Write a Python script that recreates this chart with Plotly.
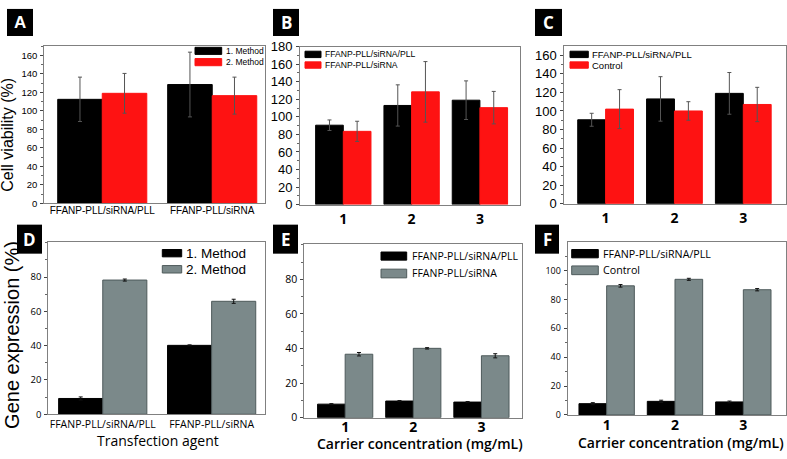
import plotly.graph_objects as go

W, H = 787, 459

# ---------------- data ----------------
a_cats = ["FFANP-PLL/siRNA/PLL", "FFANP-PLL/siRNA"]
a_m1 = [112.5, 128.5]
a_m1_err = [24, 35]
a_m2 = [119, 116.5]
a_m2_err = [21.5, 20]

conc = ["1", "2", "3"]
b_pll = [90.5, 113, 119]
b_pll_err = [6, 23.5, 22]
b_sirna = [83.5, 128.5, 110.5]
b_sirna_err = [11.5, 34.5, 18.5]

c_pll = [90.5, 113, 119]
c_pll_err = [7, 24, 22.5]
c_ctrl = [102, 100, 107]
c_ctrl_err = [21, 10, 18.5]

d_cats = ["FFANP-PLL/siRNA/PLL", "FFANP-PLL/siRNA"]
d_m1 = [9.2, 40.2]
d_m1_err = [0.9, 0.3]
d_m2 = [78.3, 65.9]
d_m2_err = [0.6, 1.2]

e_pll = [7.8, 9.6, 9.0]
e_pll_err = [0.3, 0.3, 0.3]
e_sirna = [36.7, 40.1, 35.8]
e_sirna_err = [1.0, 0.4, 1.2]

f_pll = [7.8, 9.4, 9.0]
f_pll_err = [0.7, 0.8, 0.6]
f_ctrl = [89.4, 93.9, 86.7]
f_ctrl_err = [0.9, 0.7, 0.8]

# ---------------- style ----------------
BLACK = "#000000"
RED = "#fe1212"
GRAY = "#7b898a"
GRAY_EDGE = "#4e5a5b"
FRAME = "#808080"
ARIAL = "Liberation Sans, Arial, sans-serif"
OPEN = "Open Sans, sans-serif"


def px(x):
    return x / W


def py(y):
    return 1 - y / H


fig = go.Figure()


def add_bar(cats, vals, errs, color, edge, ax, errcol, name):
    fig.add_trace(go.Bar(
        x=cats, y=vals, name=name, showlegend=False,
        marker=dict(color=color, line=dict(color=edge, width=1)),
        error_y=dict(type="data", array=errs, visible=True, color=errcol,
                     thickness=1, width=2),
        xaxis="x" + ax, yaxis="y" + ax,
    ))


add_bar(a_cats, a_m1, a_m1_err, BLACK, BLACK, "", "#555555", "1. Method")
add_bar(a_cats, a_m2, a_m2_err, RED, RED, "", "#555555", "2. Method")
add_bar(conc, b_pll, b_pll_err, BLACK, BLACK, "2", "#555555", "FFANP-PLL/siRNA/PLL")
add_bar(conc, b_sirna, b_sirna_err, RED, RED, "2", "#555555", "FFANP-PLL/siRNA")
add_bar(conc, c_pll, c_pll_err, BLACK, BLACK, "3", "#555555", "FFANP-PLL/siRNA/PLL")
add_bar(conc, c_ctrl, c_ctrl_err, RED, RED, "3", "#555555", "Control")
add_bar(d_cats, d_m1, d_m1_err, BLACK, BLACK, "4", "#111111", "1. Method")
add_bar(d_cats, d_m2, d_m2_err, GRAY, GRAY_EDGE, "4", "#111111", "2. Method")
add_bar(conc, e_pll, e_pll_err, BLACK, BLACK, "5", "#111111", "FFANP-PLL/siRNA/PLL")
add_bar(conc, e_sirna, e_sirna_err, GRAY, GRAY_EDGE, "5", "#111111", "FFANP-PLL/siRNA")
add_bar(conc, f_pll, f_pll_err, BLACK, BLACK, "6", "#111111", "FFANP-PLL/siRNA/PLL")
add_bar(conc, f_ctrl, f_ctrl_err, GRAY, GRAY_EDGE, "6", "#111111", "Control")

BOLD_TICK = dict(family=OPEN, size=14, weight=700)

# panel geometry (pixels): x0, x1, ytop, ybottom
panels = {
    "": dict(x=(44.3, 265), y=(40, 203), xr=[-0.527, 1.48], yr=[0, 170.5], ytf=dict(family=ARIAL, size=9.5),
             xtf=dict(family=ARIAL, size=10), ydt=20, ymax=160, so=-2),
    "2": dict(x=(300, 520), y=(41, 204.3), xr=[-0.634, 2.587], yr=[0, 180], ytf=dict(family=ARIAL, size=13),
              xtf=BOLD_TICK, ydt=20, ymax=180, so=2),
    "3": dict(x=(564.3, 785.7), y=(40.7, 203.3), xr=[-0.6, 2.616], yr=[0, 169.7], ytf=dict(family=ARIAL, size=13),
              xtf=BOLD_TICK, ydt=20, ymax=160, so=2),
    "4": dict(x=(48.3, 265), y=(243.3, 421), xr=[-0.5, 1.49], yr=[0, 100.3], ytf=dict(family=OPEN, size=9.5),
              xtf=dict(family=OPEN, size=10.5), ydt=20, ymax=80, so=0),
    "5": dict(x=(304.3, 522.3), y=(245, 424.5), xr=[-0.6, 2.6], yr=[0, 100.5], ytf=dict(family=OPEN, size=10.5),
              xtf=BOLD_TICK, ydt=20, ymax=80, so=-3),
    "6": dict(x=(567.7, 785.7), y=(243.3, 421.7), xr=[-0.57, 2.62], yr=[0, 119.5], ytf=dict(family=OPEN, size=9),
              xtf=BOLD_TICK, ydt=20, ymax=100, so=-3),
}

for k, p in panels.items():
    xa = "xaxis" + k
    ya = "yaxis" + k
    fig.layout[xa] = dict(
        domain=[px(p["x"][0]), px(p["x"][1])], anchor="y" + k, type="category",
        range=p["xr"], showline=True, mirror=True, linecolor=FRAME, linewidth=1,
        ticks="", tickfont=dict(color="black", **p["xtf"]), showgrid=False, zeroline=False,
        ticklabelstandoff=p["so"],
    )
    fig.layout[ya] = dict(
        domain=[py(p["y"][1]), py(p["y"][0])], anchor="x" + k, range=p["yr"],
        showline=True, mirror=True, linecolor=FRAME, linewidth=1,
        ticks="outside", ticklen=3, tickcolor="#444444", tickwidth=1,
        tickmode="array", tickvals=list(range(0, p["ymax"] + 1, p["ydt"])),
        minor=dict(ticks="outside", ticklen=2, tickcolor="#666666", dtick=10, tick0=0),
        tickfont=dict(color="black", **p["ytf"]), showgrid=False, zeroline=False,
        ticklabelstandoff=1,
    )

shapes = []
annotations = []

# panel letters
letters = [("A", 7, 33, 2, 30, ARIAL), ("B", 273, 299, 2, 30, OPEN), ("C", 535, 562, 2, 30, OPEN),
           ("D", 17, 42, 225, 255, OPEN), ("E", 273, 298, 225, 255, OPEN), ("F", 535, 559, 225, 255, OPEN)]
for t, x0, x1, y0, y1, fam in letters:
    shapes.append(dict(type="rect", xref="paper", yref="paper", x0=px(x0), x1=px(x1),
                       y0=py(y1), y1=py(y0), fillcolor="black", line=dict(width=0)))
    annotations.append(dict(text=t, x=px((x0 + x1) / 2), y=py((y0 + y1) / 2), xref="paper", yref="paper",
                            showarrow=False, xanchor="center", yanchor="middle",
                            font=dict(family=fam, size=17, color="white", weight=700)))

# legends: (swatch x0, x1, [(y0, y1, color, edge, text)], text x, font)
legends = [
    (195, 221.7, [(41.7, 49, BLACK, BLACK, "1. Method"), (53.3, 60.7, RED, RED, "2. Method")], 224,
     dict(family=ARIAL, size=8.5)),
    (305, 321, [(45.7, 52.3, BLACK, BLACK, "FFANP-PLL/siRNA/PLL"), (56.7, 63.3, RED, RED, "FFANP-PLL/siRNA")],
     322.7, dict(family=ARIAL, size=8.6)),
    (570, 588.3, [(45.7, 52.3, BLACK, BLACK, "FFANP-PLL/siRNA/PLL"), (56.7, 63.3, RED, RED, "Control")],
     590, dict(family=ARIAL, size=9.5)),
    (162.3, 181.7, [(250.7, 258.3, BLACK, BLACK, "1. Method"), (267.3, 275, GRAY, GRAY_EDGE, "2. Method")],
     184, dict(family=ARIAL, size=13.5)),
    (381, 406.7, [(253.3, 261.7, BLACK, BLACK, "FFANP-PLL/siRNA/PLL"), (271, 280, GRAY, GRAY_EDGE, "FFANP-PLL/siRNA")],
     410, dict(family=OPEN, size=10.5)),
    (571.7, 598.3, [(250.7, 259.3, BLACK, BLACK, "FFANP-PLL/siRNA/PLL"), (267.7, 276.7, GRAY, GRAY_EDGE, "Control")],
     601, dict(family=OPEN, size=10.7)),
]
for x0, x1, items, tx, fnt in legends:
    for y0, y1, col, edge, txt in items:
        shapes.append(dict(type="rect", xref="paper", yref="paper", x0=px(x0), x1=px(x1),
                           y0=py(y1), y1=py(y0), fillcolor=col, line=dict(color=edge, width=1)))
        annotations.append(dict(text=txt, x=px(tx), y=py((y0 + y1) / 2), xref="paper", yref="paper",
                                showarrow=False, xanchor="left", yanchor="middle",
                                font=dict(color="black", **fnt)))

# axis titles
annotations += [
    dict(text="Cell viability (%)", x=px(8), y=py(132), textangle=-90, xref="paper", yref="paper",
         showarrow=False, xanchor="center", yanchor="middle", font=dict(family=ARIAL, size=16, color="black")),
    dict(text="Gene expression (%)", x=px(12), y=py(339), textangle=-90, xref="paper", yref="paper",
         showarrow=False, xanchor="center", yanchor="middle", font=dict(family=ARIAL, size=20, color="black")),
    dict(text="Transfection agent", x=px(158), y=py(448), xref="paper", yref="paper",
         showarrow=False, xanchor="center", yanchor="middle", font=dict(family=OPEN, size=14, color="black")),
    dict(text="Carrier concentration (mg/mL)", x=px(419.7), y=py(451), xref="paper", yref="paper",
         showarrow=False, xanchor="center", yanchor="middle",
         font=dict(family=OPEN, size=14, color="black", weight=600)),
    dict(text="Carrier concentration (mg/mL)", x=px(681), y=py(450.5), xref="paper", yref="paper",
         showarrow=False, xanchor="center", yanchor="middle",
         font=dict(family=OPEN, size=14, color="black", weight=600)),
]

fig.update_layout(
    width=W, height=H, margin=dict(l=0, r=0, t=0, b=0),
    paper_bgcolor="white", plot_bgcolor="white",
    barmode="group", bargap=0.19, bargroupgap=0,
    showlegend=False, shapes=shapes, annotations=annotations,
)

fig.write_html("out.html", config={"displayModeBar": False},
               post_script="document.body.style.margin='0';document.body.style.overflow='hidden';")
